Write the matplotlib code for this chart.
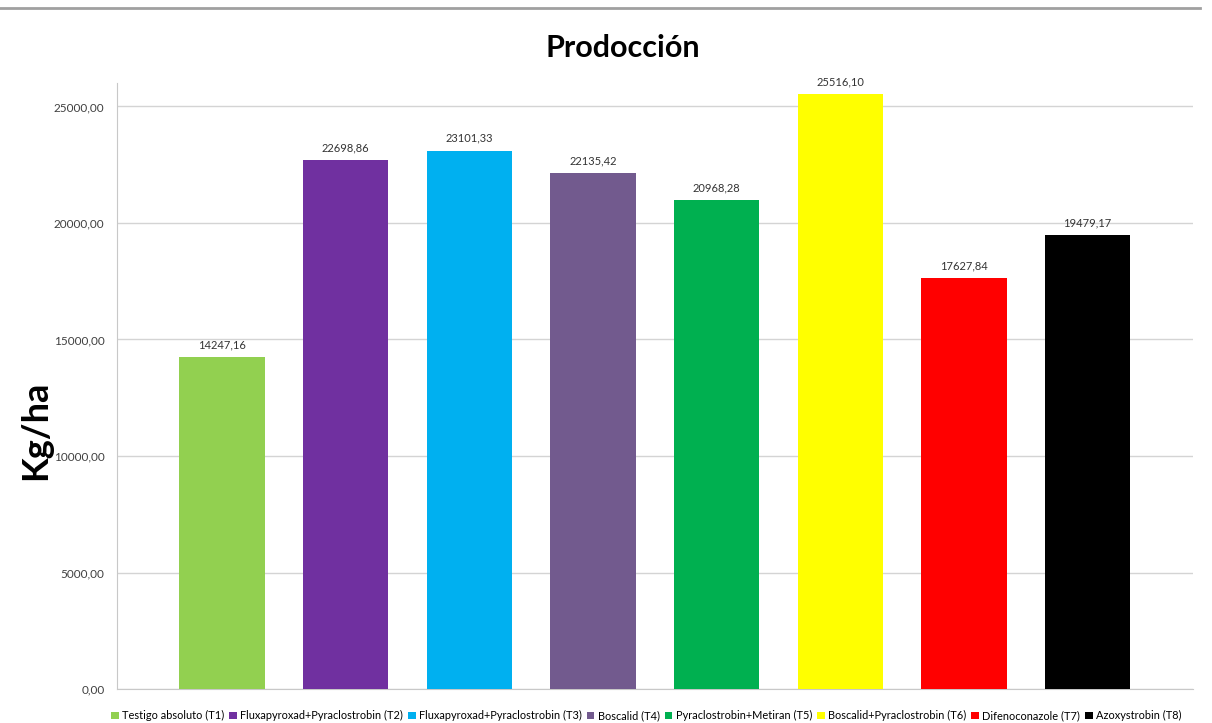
import matplotlib.pyplot as plt
from matplotlib.lines import Line2D
from matplotlib.ticker import FuncFormatter

treatments = ["Testigo absoluto (T1)", "Fluxapyroxad+Pyraclostrobin (T2)",
              "Fluxapyroxad+Pyraclostrobin (T3)", "Boscalid (T4)",
              "Pyraclostrobin+Metiran (T5)", "Boscalid+Pyraclostrobin (T6)",
              "Difenoconazole (T7)", "Azoxystrobin (T8)"]
yields = [14247.16, 22698.86, 23101.33, 22135.42, 20968.28, 25516.10, 17627.84, 19479.17]
colors = ["#92D050", "#7030A0", "#00B0F0", "#725A8E",
          "#00B050", "#FFFF00", "#FF0000", "#000000"]

plt.rcParams['font.family'] = ['Lato', 'DejaVu Sans']


def fmt(v):
    return ("%.2f" % v).replace(".", ",")


fig = plt.figure(figsize=(12.12, 7.23), dpi=100)
ax = fig.add_axes([0.0965, 0.047, 0.8875, 0.838])

for i, (name, val, c) in enumerate(zip(treatments, yields, colors)):
    ax.bar(i, val, width=0.69, color=c, label=name, zorder=3)
    ax.text(i, val + 300, fmt(val), ha="center", va="bottom", fontsize=8, color="#333333")

ax.set_xlim(-0.85, 7.85)
ax.set_ylim(0, 26000)
ax.set_yticks(range(0, 26000, 5000))
ax.yaxis.set_major_formatter(FuncFormatter(lambda v, p: fmt(v)))
ax.tick_params(axis="y", length=0, labelsize=8.5, labelcolor="#404040", pad=9)
ax.set_xticks([])
ax.grid(axis="y", color="#D4D4D4", linewidth=1.0, zorder=0)
for s in ["top", "right"]:
    ax.spines[s].set_visible(False)
ax.spines["left"].set_color("#C8C8C8")
ax.spines["bottom"].set_color("#C8C8C8")

fig.text(0.514, 0.933, "Prodocción", ha="center", va="center", fontsize=22, fontweight="bold")
fig.text(0.029, 0.405, "Kg/ha", ha="center", va="center", rotation=90, fontsize=26, fontweight="bold")

# thin rule across the top of the sheet
fig.add_artist(Line2D([0, 0.99], [0.989, 0.989], color="#A0A0A0", linewidth=2, transform=fig.transFigure))

fig.legend(loc="center left", bbox_to_anchor=(0.088, 0.01), ncol=8, frameon=False, fontsize=7.9,
           handlelength=0.7, handleheight=0.7, handletextpad=0.3, columnspacing=0.45, borderaxespad=0)

fig.savefig("out.png", dpi=100)
